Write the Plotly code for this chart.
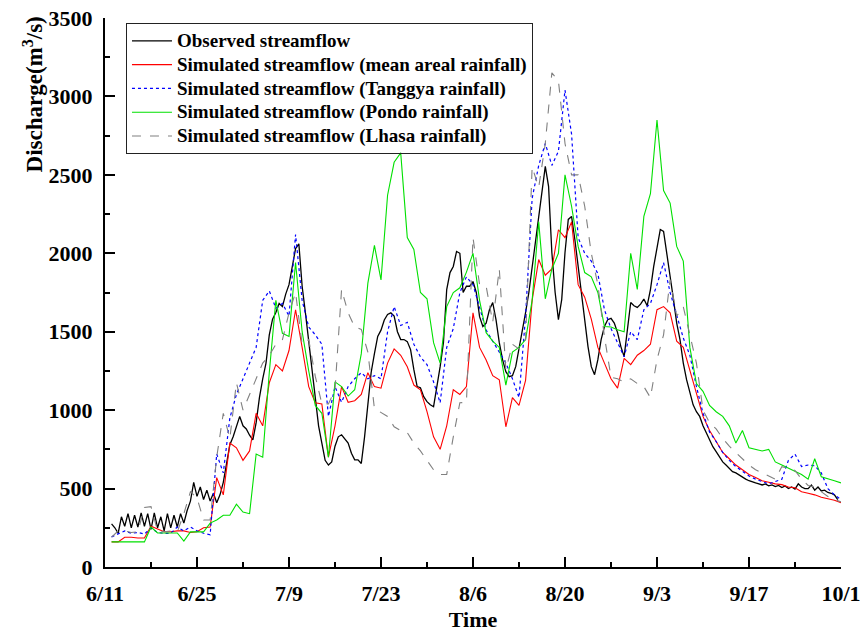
import pandas as pd
import plotly.graph_objects as go

# ---- data ----
observed = [
    275, 250, 215, 320, 260, 340, 250, 330, 255, 345, 260, 340, 240, 345,
    250, 320, 230, 340, 250, 330, 255, 340, 280, 360, 420, 540, 450, 510,
    430, 490, 420, 470, 410, 460, 540, 650, 780, 830, 900, 960, 900, 880,
    840, 810, 920, 1080, 1200, 1300, 1480, 1580, 1622, 1680, 1660, 1740,
    1800, 1920, 2030, 2060, 1790, 1620, 1430, 1240, 1050, 900, 790, 680,
    650, 670, 770, 830, 843, 820, 790, 725, 683, 683, 660, 830, 1040, 1240,
    1360, 1470, 1510, 1575, 1610, 1620, 1600, 1500, 1450, 1450, 1437, 1386,
    1258, 1150, 1143, 1086, 1054, 1034, 1022, 1143, 1277, 1430, 1769, 1877,
    1916, 2012, 2000, 1750, 1790, 1790, 1820, 1750, 1596, 1533, 1555, 1640,
    1686, 1577, 1430, 1322, 1245, 1213, 1220, 1277, 1386, 1513, 1622, 1750,
    1916, 2088, 2235, 2388, 2554, 2427, 2005, 1750, 1577, 1705, 2005, 2216,
    2235, 2088, 1916, 1750, 1577, 1405, 1277, 1226, 1322, 1450, 1533, 1577,
    1585, 1555, 1494, 1405, 1341, 1533, 1686, 1665, 1655, 1676, 1708, 1665,
    1769, 1916, 2024, 2152, 2140, 1980, 1852, 1708, 1555, 1450, 1300, 1194,
    1111, 1034, 990, 960, 900, 856, 811, 767, 735, 703, 670, 650, 632, 608,
    600, 585, 570, 560, 550, 545, 536, 530, 523, 530, 517, 523, 513, 520,
    507, 517, 500, 510, 496, 530, 510, 500, 500, 523, 490, 510, 485, 490,
    475, 470, 460, 430,
]

sim_mean_areal = [
    160, 160, 190, 190, 185, 185, 260, 240, 225, 225, 230, 230, 220, 225,
    250, 255, 570, 460, 790, 760, 680, 740, 980, 900, 1175, 1290, 1250, 1380,
    1640, 1400, 1150, 1047, 1040, 700, 900, 1150, 1050, 1060, 1100, 1239, 1150, 1140,
    1300, 1390, 1350, 1277, 1160, 1130, 990, 830, 750, 900, 1130, 1100, 1150, 1620,
    1400, 1320, 1220, 1194, 894, 1080, 1030, 1190, 1700, 1960, 1860, 1900, 2150, 2100,
    2200, 1800, 1720, 1580, 1400, 1300, 1200, 1140, 1330, 1290, 1350, 1380, 1420, 1640,
    1660, 1620, 1440, 1400, 1250, 1100, 960, 870, 800, 730, 690, 650, 620, 590,
    570, 550, 540, 530, 525, 510, 505, 480, 470, 460, 445, 435, 425, 410,
]

sim_tanggya = [
    192, 210, 230, 215, 220, 210, 250, 220, 215, 215, 255, 230, 255, 230,
    215, 205, 720, 600, 950, 1100, 1200, 1300, 1400, 1700, 1760, 1650, 1680, 1600,
    2120, 1700, 1530, 1480, 1420, 960, 1150, 1050, 1150, 1200, 1239, 1200, 1220, 1200,
    1500, 1660, 1540, 1560, 1420, 1340, 1290, 1180, 1047, 1400, 1520, 1750, 1850, 1800,
    1650, 1510, 1440, 1370, 1300, 1200, 1080, 1600, 2350, 2560, 2700, 2560, 2650, 3040,
    2760, 2100, 2000, 1950, 1870, 1640, 1520, 1430, 1340, 1500, 1450, 1640, 1680, 1800,
    1940, 1750, 1600, 1460, 1350, 1150, 980, 860, 800, 730, 680, 640, 610, 580,
    560, 545, 530, 545, 560, 680, 720, 640, 650, 645, 600, 500, 460, 430,
]

sim_pondo = [
    160, 160, 160, 160, 160, 160, 255, 217, 217, 217, 217, 165, 224, 224,
    224, 280, 300, 330, 330, 400, 350, 340, 720, 700, 1240, 1700, 1490, 1470,
    1941, 1500, 1250, 1030, 980, 700, 1180, 1150, 1090, 1130, 1360, 1810, 2050, 1830,
    2370, 2580, 2640, 2100, 2024, 1750, 1710, 1430, 1300, 1660, 1750, 1780, 1880, 2000,
    1700, 1494, 1440, 1400, 1160, 1370, 1400, 1450, 1700, 2200, 1710, 1900, 2000, 2500,
    2300, 2044, 1877, 1850, 1750, 1533, 1530, 1513, 1500, 2000, 1770, 2235, 2380, 2850,
    2400, 2320, 2044, 1950, 1400, 1170, 1120, 1030, 990, 960, 900, 790, 870, 760,
    750, 740, 750, 670, 650, 630, 610, 590, 560, 690, 575, 560, 550, 536,
]

sim_lhasa = [
    190, 230, 230, 220, 225, 380, 385, 230, 225, 230, 225, 340, 480, 440,
    300, 300, 700, 980, 820, 1175, 1000, 1100, 1190, 1300, 1350, 1420, 1450, 1620,
    1750, 1420, 1450, 1215, 1040, 1040, 1130, 1770, 1620, 1530, 1515, 1370, 1010, 983,
    960, 894, 870, 856, 790, 740, 680, 620, 590, 590, 830, 1047, 1050, 2100,
    1800, 1790, 1560, 1900, 1258, 1420, 1390, 1450, 2550, 2420, 2700, 3150, 3100, 2700,
    2500, 2500, 2300, 2000, 1800, 1470, 1210, 1200, 1180, 1200, 1170, 1150, 1080, 1322,
    1480, 1833, 1600, 1660, 1480, 1300, 1000, 920, 880, 820, 770, 730, 690, 650,
    620, 600, 575, 560, 640, 625, 615, 560, 520, 510, 480, 450, 430, 415,
]

series_names = [
    "Observed streamflow",
    "Simulated streamflow (mean areal rainfall)",
    "Simulated streamflow (Tanggya rainfall)",
    "Simulated streamflow (Pondo rainfall)",
    "Simulated streamflow (Lhasa rainfall)",
]

tick_dates = ["2010-06-11", "2010-06-25", "2010-07-09", "2010-07-23", "2010-08-06",
              "2010-08-20", "2010-09-03", "2010-09-17", "2010-10-01"]
tick_labels = ["6/11", "6/25", "7/9", "7/23", "8/6", "8/20", "9/3", "9/17", "10/1"]

x_title = "Time"
y_title = "Discharge(m<sup>3</sup>/s)"

obs_dates = pd.date_range("2010-06-12", periods=len(observed), freq="12h")
sim_dates = pd.date_range("2010-06-12", periods=len(sim_mean_areal), freq="D")

FONT = "Liberation Serif, Times New Roman, serif"

fig = go.Figure()
fig.add_trace(go.Scatter(x=obs_dates, y=observed, mode="lines", name=series_names[0],
                         line=dict(color="black", width=1.3)))
fig.add_trace(go.Scatter(x=sim_dates, y=sim_mean_areal, mode="lines", name=series_names[1],
                         line=dict(color="#ff0000", width=1.1)))
fig.add_trace(go.Scatter(x=sim_dates, y=sim_tanggya, mode="lines", name=series_names[2],
                         line=dict(color="#0000ff", width=1.2, dash="dot")))
fig.add_trace(go.Scatter(x=sim_dates, y=sim_pondo, mode="lines", name=series_names[3],
                         line=dict(color="#00e000", width=1.1)))
fig.add_trace(go.Scatter(x=sim_dates, y=sim_lhasa, mode="lines", name=series_names[4],
                         line=dict(color="#808080", width=1.1, dash="dash")))

# legend text drawn at 19px while rows are spaced for a 16px legend font
for tr in fig.data:
    tr.name = "<span style='font-size:19px'><b>" + tr.name + "</b></span>"

fig.update_layout(
    width=866, height=632,
    margin=dict(l=105, r=25, t=18, b=65),
    paper_bgcolor="white", plot_bgcolor="white",
    font=dict(family=FONT, color="black", size=20),
    showlegend=True,
    legend=dict(x=0.0285, y=0.991, xanchor="left", yanchor="top",
                bgcolor="rgba(255,255,255,0)", bordercolor="#222222", borderwidth=1,
                font=dict(family=FONT, size=16, color="black"),
                tracegroupgap=0, itemwidth=40),
    xaxis=dict(
        range=["2010-06-11", "2010-10-01"], automargin=False,
        tickmode="array", tickvals=tick_dates, ticktext=tick_labels,
        ticks="inside", ticklen=10, tickwidth=1.5, tickcolor="black",
        showline=True, linecolor="black", linewidth=2, mirror=False,
        showgrid=False, zeroline=False, ticklabelstandoff=6,
        tickfont=dict(family=FONT, size=22, color="black", weight="bold"),
        minor=dict(tick0="2010-06-11", dtick=7 * 86400000, ticks="inside",
                   ticklen=5, tickwidth=1.5, tickcolor="black", showgrid=False),
        title=dict(text="<b>" + x_title + "</b>", font=dict(family=FONT, size=22), standoff=8),
    ),
    yaxis=dict(
        range=[0, 3500], tick0=0, dtick=500, automargin=False,
        ticks="inside", ticklen=10, tickwidth=1.5, tickcolor="black",
        showline=True, linecolor="black", linewidth=2, mirror=False,
        showgrid=False, zeroline=False, ticklabelstandoff=6,
        tickfont=dict(family=FONT, size=22, color="black", weight="bold"),
        minor=dict(dtick=250, ticks="inside", ticklen=5, tickwidth=1.5,
                   tickcolor="black", showgrid=False),
    ),
    annotations=[dict(
        text="<b>" + y_title + "</b>", textangle=-90,
        xref="paper", yref="paper", x=-0.097, y=0.86,
        xanchor="center", yanchor="middle", showarrow=False,
        font=dict(family=FONT, size=23, color="black"),
    )],
)

fig.write_html("out.html", config={"displayModeBar": False})

# remove the browser's default page margin so the figure sits at the window origin
with open("out.html", encoding="utf-8") as f:
    html = f.read()
html = html.replace("<body>", '<body style="margin:0;padding:0;">', 1)
with open("out.html", "w", encoding="utf-8") as f:
    f.write(html)
